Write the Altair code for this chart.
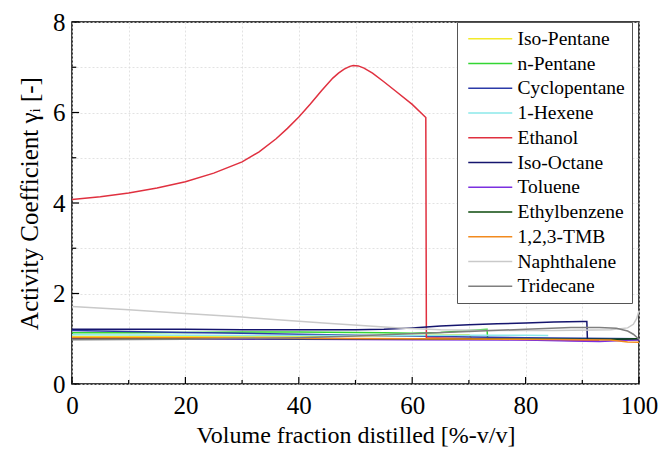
import altair as alt
import pandas as pd

names = ["Iso-Pentane", "n-Pentane", "Cyclopentane", "1-Hexene", "Ethanol",
         "Iso-Octane", "Toluene", "Ethylbenzene", "1,2,3-TMB", "Naphthalene", "Tridecane"]
colors = ["#f2ea2a", "#33d633", "#2b3aa8", "#8be8ea", "#e0303f",
          "#15156e", "#7b2fe0", "#0b4a0b", "#f28a1e", "#c9c9c9", "#7f7f7f"]

iso_pentane_x = [0, 10, 20, 30, 40, 50, 60, 70, 70.5]
iso_pentane_y = [1.05, 1.05, 1.05, 1.05, 1.05, 1.06, 1.07, 1.09, 1.0]

n_pentane_x = [0, 10, 20, 30, 40, 50, 55, 60, 65, 70, 73.2, 73.3, 80, 90, 100]
n_pentane_y = [1.13, 1.13, 1.14, 1.15, 1.15, 1.14, 1.13, 1.12, 1.14, 1.18, 1.21, 1.01, 1.0, 1.0, 0.99]

cyclopentane_x = [0, 10, 20, 30, 40, 50, 60, 70, 80, 90, 100]
cyclopentane_y = [1.18, 1.16, 1.14, 1.12, 1.10, 1.08, 1.06, 1.04, 1.02, 1.01, 1.0]

hexene_x = [0, 20, 40, 60, 70, 80, 84]
hexene_y = [1.09, 1.08, 1.07, 1.07, 1.08, 1.08, 1.07]

ethanol_x = [0, 5, 10, 15, 20, 25, 30, 33, 36, 38, 40, 42, 43, 44, 46, 47, 48, 49, 49.6,
             50.5, 51.5, 53, 55, 57, 60, 62.4, 62.5, 70, 80, 90, 93]
ethanol_y = [4.08, 4.14, 4.22, 4.33, 4.47, 4.66, 4.91, 5.13, 5.42, 5.65, 5.90, 6.18, 6.33,
             6.48, 6.76, 6.87, 6.96, 7.02, 7.04, 7.03, 6.98, 6.87, 6.68, 6.48, 6.18, 5.89,
             1.02, 1.0, 0.98, 0.96, 0.96]

iso_octane_x = [0, 10, 20, 30, 40, 50, 55, 60, 65, 70, 75, 80, 85, 90, 90.8, 90.9, 95, 100]
iso_octane_y = [1.21, 1.21, 1.21, 1.2, 1.2, 1.2, 1.21, 1.24, 1.28, 1.31, 1.33, 1.35, 1.37, 1.38,
                1.38, 0.99, 0.98, 0.98]

toluene_x = [0, 20, 40, 60, 80, 88, 93, 97, 100]
toluene_y = [1.0, 0.99, 0.99, 0.98, 0.97, 0.95, 0.94, 0.96, 0.98]

ethylbenzene_x = [0, 20, 40, 60, 80, 95, 100]
ethylbenzene_y = [1.02, 1.01, 1.0, 1.0, 0.99, 0.99, 1.0]

tmb_x = [0, 20, 40, 60, 80, 95, 98, 100]
tmb_y = [1.03, 1.02, 1.01, 1.0, 0.99, 0.97, 0.93, 0.92]

naphthalene_x = [0, 10, 20, 30, 35, 45, 57.8, 65, 75, 85, 95, 98, 99, 99.6, 100]
naphthalene_y = [1.71, 1.64, 1.56, 1.48, 1.43, 1.34, 1.24, 1.20, 1.18, 1.18, 1.20, 1.24, 1.32, 1.45, 1.62]

tridecane_x = [0, 20, 40, 50, 55, 62, 70, 80, 88, 93, 96, 98, 99, 100]
tridecane_y = [0.98, 0.99, 1.02, 1.06, 1.09, 1.12, 1.16, 1.21, 1.25, 1.25, 1.23, 1.17, 1.10, 0.99]

series = [
    (iso_pentane_x, iso_pentane_y), (n_pentane_x, n_pentane_y),
    (cyclopentane_x, cyclopentane_y), (hexene_x, hexene_y),
    (ethanol_x, ethanol_y), (iso_octane_x, iso_octane_y),
    (toluene_x, toluene_y), (ethylbenzene_x, ethylbenzene_y),
    (tmb_x, tmb_y), (naphthalene_x, naphthalene_y), (tridecane_x, tridecane_y),
]

rows = []
for k, (name, (xs_, ys_)) in enumerate(zip(names, series)):
    for i, (xv, yv) in enumerate(zip(xs_, ys_)):
        rows.append({"comp": name, "x": xv, "y": yv, "i": i, "k": k})
df = pd.DataFrame(rows)

x_tick_values = list(range(0, 101, 10))
y_tick_values = list(range(0, 9, 1))

FONT = "Liberation Serif"

xs = alt.Scale(domain=[0, 100], nice=False, zero=False)
ys = alt.Scale(domain=[0, 8], nice=False)

lines = alt.Chart(df).mark_line(strokeWidth=1.5, clip=True).encode(
    x=alt.X("x:Q", scale=xs, title="Volume fraction distilled [%-v/v]",
            axis=alt.Axis(values=x_tick_values, ticks=False, domain=False, labelFlush=False,
                          labelExpr="datum.value % 20 == 0 ? datum.label : ''",
                          labelPadding=9, titlePadding=5, titleFontSize=24)),
    y=alt.Y("y:Q", scale=ys, title="Activity Coefficient γᵢ [-]",
            axis=alt.Axis(values=y_tick_values, ticks=False, domain=False, labelFlush=False,
                          labelExpr="datum.value % 2 == 0 ? datum.label : ''",
                          labelPadding=7, titlePadding=10, titleFontSize=25)),
    color=alt.Color("comp:N", scale=alt.Scale(domain=names, range=colors),
                    legend=alt.Legend(orient="none", legendX=385, legendY=0, title=None,
                                      symbolType="M-1,0H7", symbolSize=121,
                                      symbolStrokeWidth=1.5, labelFont=FONT,
                                      labelFontSize=19.5, labelColor="black",
                                      labelOffset=34, padding=7, rowPadding=3.75,
                                      strokeColor="#555555", fillColor="white")),
    detail="comp:N",
    order=alt.Order("i:Q"),
)

xt = pd.DataFrame({"v": x_tick_values, "z": [0.0] * len(x_tick_values),
                   "len": [0.155 if v % 20 == 0 else 0.09 for v in x_tick_values]})
yt = pd.DataFrame({"v": y_tick_values, "z": [0.0] * len(y_tick_values),
                   "len": [1.25 if v % 2 == 0 else 0.75 for v in y_tick_values]})

xticks = alt.Chart(xt).mark_rule(color="black", strokeWidth=1.2).encode(
    x=alt.X("v:Q", scale=xs), y=alt.Y("z:Q", scale=ys), y2="len:Q")
yticks = alt.Chart(yt).mark_rule(color="black", strokeWidth=1.2).encode(
    y=alt.Y("v:Q", scale=ys), x=alt.X("z:Q", scale=xs), x2="len:Q")

chart = alt.layer(xticks, yticks, lines).properties(
    width=567, height=362,
    autosize=alt.AutoSizeParams(type="none"),
    padding={"left": 64, "top": 14, "right": 24, "bottom": 64},
).configure_view(stroke="black", strokeWidth=1.5).configure_axis(
    labelFont=FONT, labelFontSize=25, labelColor="black",
    titleFont=FONT, titleFontWeight="normal", titleColor="black",
    grid=True, gridColor="#dadada", gridDash=[2, 2], gridWidth=0.8,
)

chart.save("out.html", embed_options={"renderer": "svg", "actions": False})
